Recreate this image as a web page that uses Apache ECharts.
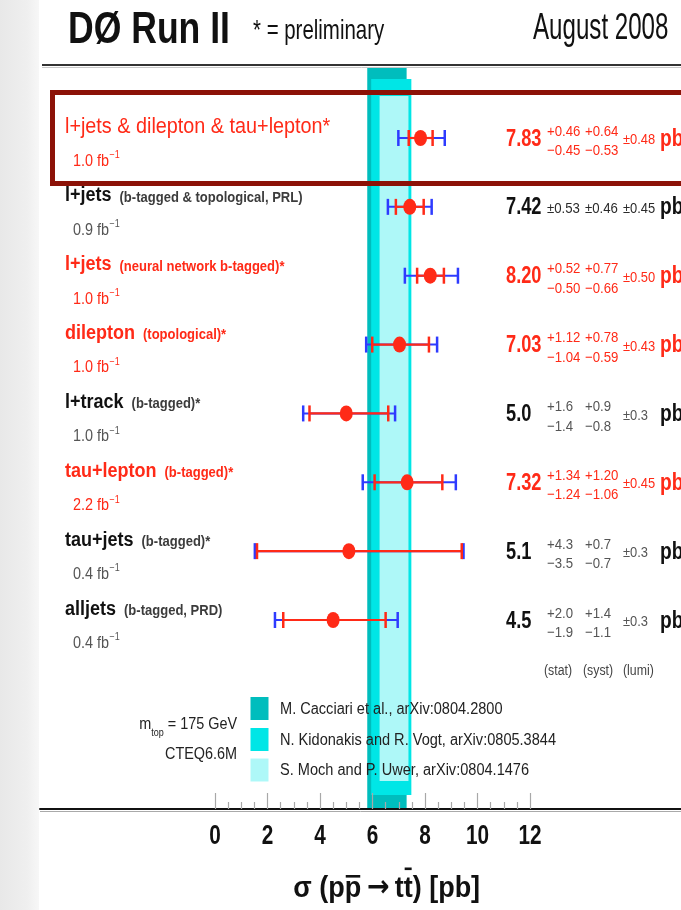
<!DOCTYPE html>
<html><head><meta charset="utf-8">
<script src="https://cdn.jsdelivr.net/npm/echarts@6/dist/echarts.min.js"></script>
<style>html,body{margin:0;padding:0;background:#fff;overflow:hidden}#c{width:681px;height:910px}</style>
</head><body><div id="c"></div>
<script>
// ---------------- data ----------------
const measurements = ['l+jets & dilepton & tau+lepton*', 'l+jets', 'l+jets', 'dilepton', 'l+track', 'tau+lepton', 'tau+jets', 'alljets'];
const methods = ['', '(b-tagged & topological, PRL)', '(neural network b-tagged)*', '(topological)*', '(b-tagged)*', '(b-tagged)*', '(b-tagged)*', '(b-tagged, PRD)'];
const lumis = ['1.0', '0.9', '1.0', '1.0', '1.0', '2.2', '0.4', '0.4'];
const sigma = [7.83, 7.42, 8.20, 7.03, 5.0, 7.32, 5.1, 4.5];
const statUp = [0.46, 0.53, 0.52, 1.12, 1.6, 1.34, 4.3, 2.0];
const statDn = [0.45, 0.53, 0.50, 1.04, 1.4, 1.24, 3.5, 1.9];
const systUp = [0.64, 0.46, 0.77, 0.78, 0.9, 1.20, 0.7, 1.4];
const systDn = [0.53, 0.46, 0.66, 0.59, 0.8, 1.06, 0.7, 1.1];
const lumiErr = [0.48, 0.45, 0.50, 0.43, 0.3, 0.45, 0.3, 0.3];
const decimals = [2, 2, 2, 2, 1, 2, 1, 1];
const compactErrors = [false, true, false, false, false, false, false, false];
const highlighted = [true, false, true, true, false, true, false, false];
const isCombination = [true, false, false, false, false, false, false, false];

const theories = ['M. Cacciari et al., arXiv:0804.2800', 'N. Kidonakis and R. Vogt, arXiv:0805.3844', 'S. Moch and P. Uwer, arXiv:0804.1476'];
const theoryLow = [5.80, 5.95, 6.27];
const theoryHigh = [7.30, 7.48, 7.37];

const tickLabels = [0, 2, 4, 6, 8, 10, 12];
const majorTicks = [0, 2, 4, 6, 8, 10, 12];
const minorTicks = [0.5, 1, 1.5, 2.5, 3, 3.5, 4.5, 5, 5.5, 6.5, 7, 7.5, 8.5, 9, 9.5, 10.5, 11, 11.5];

// ---------------- style / layout ----------------
const FONT = "'Liberation Sans', Arial, Helvetica, sans-serif";
const RED = '#ff2a17', BLUE = '#2e3bff', BLACK = '#111111';
const BAND_COLORS = ['#00bdbd', '#00e6e6', '#aef8f8'];
const BAND_INSET = [[2, 0], [14, 14], [31, 28]];
const ZERO_X = 215, PX_PER_PB = 26.25, GRID_L = 40, GRID_R = 681, GRID_T = 65, GRID_B = 809;
const ROW0_Y = 138, ROW_STEP = (620 - 138) / 7;
const xMin = -(ZERO_X - GRID_L) / PX_PER_PB, xMax = (GRID_R - ZERO_X) / PX_PER_PB;
const yMin = -(ROW0_Y - GRID_T) / ROW_STEP, yMax = (GRID_B - ROW0_Y) / ROW_STEP;

const mctx = document.createElement('canvas').getContext('2d');
function tw(text, size, weight, family) {
  mctx.font = (weight || 'normal') + ' ' + size + 'px ' + (family || FONT);
  return mctx.measureText(text).width;
}
function T(text, x, y, size, o) {
  o = o || {};
  const align = o.align || 'left';
  return {
    type: 'text', x: x, y: y, scaleX: o.sx || 0.9, z2: 10, silent: true,
    style: {
      text: text, fill: o.color || BLACK, fontSize: size, fontWeight: o.weight || 'normal', fontFamily: o.family || FONT,
      align: align, textAlign: align, verticalAlign: 'middle', textVerticalAlign: 'middle'
    }
  };
}
function G(el, z) { el.z = z || 60; delete el.z2; return el; }

// ---------------- derived ----------------
const totDn = sigma.map((s, i) => Math.sqrt(statDn[i] ** 2 + systDn[i] ** 2 + lumiErr[i] ** 2));
const totUp = sigma.map((s, i) => Math.sqrt(statUp[i] ** 2 + systUp[i] ** 2 + lumiErr[i] ** 2));
const errData = sigma.map((s, i) => [i, s, s - totDn[i], s + totUp[i], s - statDn[i], s + statUp[i]]);
const dotData = sigma.map((s, i) => [s, i]);
const rowIdx = sigma.map((s, i) => [0, i]);

function rowChildren(i, y) {
  const red = highlighted[i];
  const cMain = red ? RED : BLACK;
  const cSub = red ? RED : '#3c3c3c';
  const cLumi = red ? RED : '#555';
  const cErr = red ? RED : (compactErrors[i] ? '#2a2a2a' : '#555');
  const out = [];
  const yMain = y - 11, yLumi = y + 23.5;
  if (isCombination[i]) {
    out.push(T(measurements[i], 65, yMain, 22, { color: cMain, sx: 0.9 }));
  } else {
    out.push(T(measurements[i], 65, yMain, 20, { color: cMain, weight: 'bold', sx: 0.9 }));
    const subX = 65 + 0.9 * tw(measurements[i] + ' ', 20, 'bold') + 3;
    out.push(T(methods[i], subX, yMain + 2, 14, { color: cSub, weight: 'bold', sx: 0.93 }));
  }
  const lt = lumis[i] + ' fb';
  out.push(T(lt, 73, yLumi, 16, { color: cLumi, sx: 0.9 }));
  out.push(T('\u22121', 73 + 0.9 * tw(lt, 16) + 0.5, yLumi - 6, 10, { color: cLumi, sx: 0.9 }));

  const d = decimals[i];
  out.push(T(sigma[i].toFixed(d), 506, y + 1, 24, { color: cMain, weight: 'bold', sx: 0.76 }));
  if (compactErrors[i]) {
    out.push(T('\u00b1' + statUp[i].toFixed(d), 547, y + 2, 15, { color: cErr, sx: 0.88 }));
    out.push(T('\u00b1' + systUp[i].toFixed(d), 585, y + 2, 15, { color: cErr, sx: 0.88 }));
  } else {
    out.push(T('+' + statUp[i].toFixed(d), 547, y - 6.5, 15, { color: cErr, sx: 0.88 }));
    out.push(T('\u2212' + statDn[i].toFixed(d), 547, y + 13, 15, { color: cErr, sx: 0.88 }));
    out.push(T('+' + systUp[i].toFixed(d), 585, y - 6.5, 15, { color: cErr, sx: 0.88 }));
    out.push(T('\u2212' + systDn[i].toFixed(d), 585, y + 13, 15, { color: cErr, sx: 0.88 }));
  }
  out.push(T('\u00b1' + lumiErr[i].toFixed(d), 623, y + 2, 15, { color: cErr, sx: 0.86 }));
  out.push(T('pb', 660, y + 1, 24, { color: cMain, weight: 'bold', sx: 0.8 }));
  return out;
}

// ---------------- graphic decorations ----------------
const graphics = [];
graphics.push({ type: 'rect', z: 0, silent: true, shape: { x: 0, y: 0, width: 39, height: 910 },
  style: { fill: new echarts.graphic.LinearGradient(0, 0, 1, 0, [{ offset: 0, color: '#e8e8e8' }, { offset: 0.7, color: '#efefef' }, { offset: 1, color: '#f7f7f7' }]) } });
graphics.push({ type: 'line', z: 40, silent: true, shape: { x1: 42, y1: 65, x2: 681, y2: 65 }, style: { stroke: '#333', lineWidth: 2 } });
graphics.push({ type: 'line', z: 40, silent: true, shape: { x1: 42, y1: 67.5, x2: 681, y2: 67.5 }, style: { stroke: '#c8c8c8', lineWidth: 1 } });
graphics.push({ type: 'line', z: 40, silent: true, shape: { x1: 40, y1: 811.5, x2: 681, y2: 811.5 }, style: { stroke: '#aaa', lineWidth: 1 } });
graphics.push({ type: 'rect', z: 50, silent: true, shape: { x: 52.5, y: 92.5, width: 700, height: 91 }, style: { fill: 'none', stroke: '#8c1207', lineWidth: 5 } });
graphics.push(G(T('D\u00d8 Run II', 68, 31, 45, { weight: 'bold', sx: 0.79 })));
graphics.push(G(T('* = preliminary', 253, 31.6, 28, { sx: 0.73 })));
graphics.push(G(T('August 2008', 533, 29, 36, { sx: 0.67 })));
// legend
const legY = [709.5, 741, 771];
const legBoxY = [697, 728, 758.5];
theories.forEach((t, k) => {
  graphics.push({ type: 'rect', z: 55, silent: true, shape: { x: 250.5, y: legBoxY[k], width: 18, height: 23 }, style: { fill: BAND_COLORS[k] } });
  graphics.push(G(T(t, 280, legY[k], 16, { color: '#222', sx: 0.91 })));
});
// m_top / pdf
(function () {
  const sx = 0.9, right = 237;
  const w1 = tw('m', 16), w2 = tw('top', 10), w3 = tw(' = 175 GeV', 16);
  const x0 = right - sx * (w1 + w2 + w3);
  graphics.push(G(T('m', x0, 724.5, 16, { color: '#222', sx: sx })));
  graphics.push(G(T('top', x0 + sx * w1, 733, 10, { color: '#222', sx: sx })));
  graphics.push(G(T(' = 175 GeV', x0 + sx * (w1 + w2), 724.5, 16, { color: '#222', sx: sx })));
  graphics.push(G(T('CTEQ6.6M', right, 754.5, 16, { color: '#222', sx: sx, align: 'right' })));
})();
// column footer
graphics.push(G(T('(stat)', 544, 671, 14, { color: '#444', sx: 0.88 })));
graphics.push(G(T('(syst)', 583, 671, 14, { color: '#444', sx: 0.88 })));
graphics.push(G(T('(lumi)', 623, 671, 14, { color: '#444', sx: 0.88 })));
// axis title with overbars, built from pieces
(function () {
  const sx = 0.9, size = 30, cx = 386.7, y = 889;
  const ARROWF = "'DejaVu Sans', sans-serif";
  const pieces = [
    { t: '\u03c3 (p', f: FONT }, { t: 'p', f: FONT, bar: 875 }, { t: '\u2009', f: FONT },
    { t: '\u2192', f: ARROWF }, { t: '\u2009', f: FONT },
    { t: 't', f: FONT }, { t: 't', f: FONT, bar: 867.5 }, { t: ') [pb]', f: FONT }
  ];
  pieces.forEach(p => { p.w = sx * tw(p.t, size, 'bold', p.f); });
  const W = pieces.reduce((a, p) => a + p.w, 0);
  let x = cx - W / 2;
  pieces.forEach(p => {
    graphics.push(G(T(p.t, x, p.f === FONT ? y : y - 1, size, { weight: 'bold', sx: sx, family: p.f })));
    if (p.bar) graphics.push({ type: 'rect', z: 61, silent: true, shape: { x: x + 1, y: p.bar, width: p.w - 2, height: 2.6 }, style: { fill: BLACK } });
    x += p.w;
  });
})();

// ---------------- chart ----------------
const chart = echarts.init(document.getElementById('c'), null, { renderer: 'canvas', width: 681, height: 910 });
chart.setOption({
  animation: false,
  backgroundColor: '#ffffff',
  grid: { left: GRID_L, right: 681 - GRID_R, top: GRID_T, bottom: 910 - GRID_B, containLabel: false },
  xAxis: [{
    type: 'value', min: xMin, max: xMax, position: 'bottom', z: 6,
    axisLine: { show: true, onZero: false, lineStyle: { color: '#111', width: 2 } },
    axisTick: { show: true, inside: true, length: 16, customValues: majorTicks, lineStyle: { color: '#a8a8a8', width: 1.2 } },
    axisLabel: { show: false }, splitLine: { show: false }
  }, {
    type: 'value', min: xMin, max: xMax, position: 'bottom', gridIndex: 0, z: 6,
    axisLine: { show: false, onZero: false },
    axisTick: { show: true, inside: true, length: 7, customValues: minorTicks, lineStyle: { color: '#a8a8a8', width: 1.2 } },
    axisLabel: { show: false }, splitLine: { show: false }
  }],
  yAxis: { type: 'value', inverse: true, min: yMin, max: yMax, show: false },
  graphic: { elements: graphics },
  series: [
    { // theory bands
      type: 'custom', z: 1, silent: true, data: theoryLow.map((v, k) => [v, theoryHigh[k], k]),
      renderItem: function (params, api) {
        const k = api.value(2);
        const cs = params.coordSys;
        const x1 = api.coord([api.value(0), 0])[0], x2 = api.coord([api.value(1), 0])[0];
        const top = cs.y + BAND_INSET[k][0], bot = cs.y + cs.height - BAND_INSET[k][1];
        return { type: 'rect', shape: { x: x1, y: top, width: x2 - x1, height: bot - top }, style: { fill: BAND_COLORS[k] } };
      }
    },
    { // error bars
      type: 'custom', z: 3, silent: true, data: errData,
      renderItem: function (params, api) {
        const i = api.value(0);
        const y = api.coord([0, i])[1];
        const X = v => api.coord([v, i])[0];
        const tl = X(api.value(2)), th = X(api.value(3)), sl = X(api.value(4)), sh = X(api.value(5));
        const cap = 8;
        const ln = (x1, y1, x2, y2, c, w) => ({ type: 'line', shape: { x1: x1, y1: y1, x2: x2, y2: y2 }, style: { stroke: c, lineWidth: w } });
        return { type: 'group', children: [
          ln(tl, y, th, y, BLUE, 2),
          ln(tl, y - cap, tl, y + cap, BLUE, 2.5),
          ln(th, y - cap, th, y + cap, BLUE, 2.5),
          ln(sl, y, sh, y, RED, 2.2),
          ln(sl, y - cap, sl, y + cap, RED, 2.5),
          ln(sh, y - cap, sh, y + cap, RED, 2.5)
        ] };
      }
    },
    { // central values
      type: 'scatter', z: 4, silent: true, data: dotData, symbol: 'circle', symbolSize: [13, 16],
      itemStyle: { color: RED, opacity: 1 }
    },
    { // row texts
      type: 'custom', z: 5, silent: true, data: rowIdx,
      renderItem: function (params, api) {
        const i = api.value(1);
        const y = api.coord([0, i])[1];
        return { type: 'group', children: rowChildren(i, y) };
      }
    },
    { // tick labels
      type: 'custom', z: 5, silent: true, data: tickLabels.map(v => [v, 0]),
      renderItem: function (params, api) {
        const v = api.value(0);
        const x = api.coord([v, 0])[0];
        const yb = params.coordSys.y + params.coordSys.height;
        return T(String(v), x, yb + 27.5, 27, { weight: 'bold', align: 'center', sx: 0.77 });
      }
    }
  ]
});
</script>
</body></html>
